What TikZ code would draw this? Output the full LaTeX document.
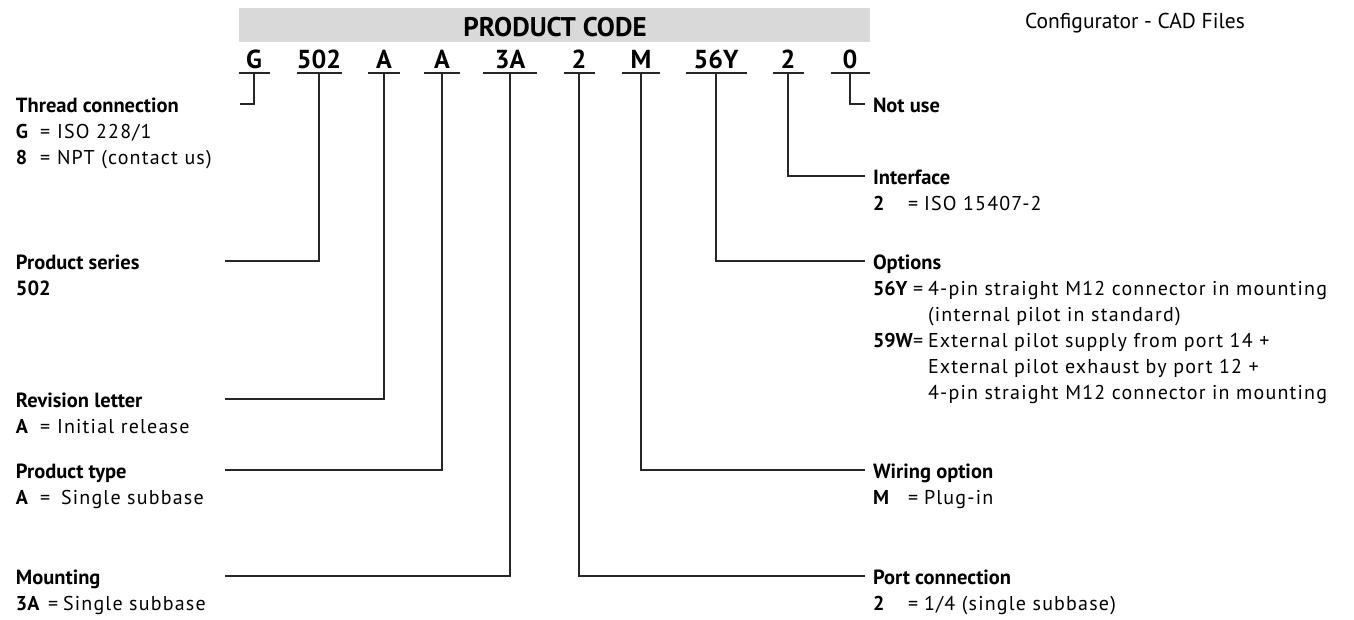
\documentclass[tikz,border=0pt]{standalone}
\usepackage{fontspec}
\setmainfont{PT Sans}
\newfontfamily\bodyfnt[LetterSpace=6]{PT Sans}
\begin{document}
\begin{tikzpicture}[x=1pt,y=-1pt,
  every node/.style={inner sep=0pt,outer sep=0pt},
  body/.style={font=\fontsize{20}{24}\bodyfnt,anchor=base west},
  eqn/.style={font=\fontsize{20}{24}\selectfont,anchor=base west},
  keyn/.style={font=\fontsize{20}{24}\selectfont\bfseries,anchor=base west},
  ttl/.style={font=\fontsize{20.5}{24}\selectfont\bfseries,anchor=base west},
  code/.style={font=\fontsize{26}{30}\selectfont\bfseries,anchor=base,minimum width=#1},
  conn/.style={line width=1.3pt,color=black!85},
  uline/.style={line width=2pt,color=black!85}]
\useasboundingbox (0,0) rectangle (1354,619);
% header
\fill[black!15] (239,8) rectangle (870,42);
\node[font=\fontsize{27}{30}\selectfont\bfseries,anchor=base] (hdr) at (555,36) {PRODUCT CODE};
\node[font=\fontsize{21.5}{24}\selectfont,anchor=base west] (cfg) at (1025,28) {Configurator - CAD Files};
% code letters
\node[code=31pt] (c1) at (254,68) {G};
\node[code=45pt] (c2) at (319,68) {502};
\node[code=32pt] (c3) at (384,68) {A};
\node[code=36pt] (c4) at (442,68) {A};
\node[code=54pt] (c5) at (510,68) {3A};
\node[code=31pt] (c6) at (579,68) {2};
\node[code=38pt] (c7) at (641,68) {M};
\node[code=61pt] (c8) at (716,68) {56Y};
\node[code=31pt] (c9) at (788,68) {2};
\node[code=39pt] (c10) at (850,68) {0};
\foreach \i in {1,...,10}{
  \draw[uline] ([yshift=-5pt]c\i.base west) -- ([yshift=-5pt]c\i.base east);
}
% line end coordinates
\coordinate (e1) at (240,104);
\coordinate (e2) at (225,261);
\coordinate (e3) at (225,399);
\coordinate (e4) at (225,470);
\coordinate (e5) at (225,576);
\coordinate (e6) at (865,576);
\coordinate (e7) at (865,470);
\coordinate (e8) at (865,261);
\coordinate (e9) at (865,176);
\coordinate (e10) at (865,104);
\foreach \i in {1,...,10}{
  \draw[conn] ([yshift=-5pt]c\i.base) |- (e\i);
}
% left labels
\node[ttl] (t1) at (16,112) {Thread connection};
\node[keyn] (k1a) at (16,138) {G};
\node[eqn] (q1a) at (40,138) {=};
\node[body] (v1a) at (57,138) {ISO 228/1};
\node[keyn] (k1b) at (16,164) {8};
\node[eqn] (q1b) at (40,164) {=};
\node[body] (v1b) at (57,164) {NPT (contact us)};
\node[ttl] (t2) at (16,269) {Product series};
\node[ttl] (t2a) at (16,295) {502};
\node[ttl] (t3) at (16,407) {Revision letter};
\node[keyn] (k3a) at (16,433) {A};
\node[eqn] (q3a) at (40,433) {=};
\node[body] (v3a) at (57,433) {Initial release};
\node[ttl] (t4) at (16,478) {Product type};
\node[keyn] (k4a) at (16,504) {A};
\node[eqn] (q4a) at (40,504) {=};
\node[body] (v4a) at (61,504) {Single subbase};
\node[ttl] (t5) at (16,584) {Mounting};
\node[keyn] (k5a) at (16,610) {3A};
\node[eqn] (q5a) at (48,610) {=};
\node[body] (v5a) at (63,610) {Single subbase};
% right labels
\node[ttl] (r6) at (873,584) {Port connection};
\node[keyn] (k6a) at (873,610) {2};
\node[eqn] (q6a) at (908,610) {=};
\node[body] (v6a) at (924,610) {1/4 (single subbase)};
\node[ttl] (r7) at (873,478) {Wiring option};
\node[keyn] (k7a) at (873,504) {M};
\node[eqn] (q7a) at (908,504) {=};
\node[body] (v7a) at (924,504) {Plug-in};
\node[ttl] (r8) at (873,269) {Options};
\node[keyn] (k8a) at (873,295) {56Y};
\node[eqn] (q8a) at (913,295) {=};
\node[body] (v8a) at (928,295) {4-pin straight M12 connector in mounting};
\node[body] (v8b) at (928,321) {(internal pilot in standard)};
\node[keyn] (k8c) at (873,347) {59W};
\node[eqn] (q8c) at (913,347) {=};
\node[body] (v8c) at (928,347) {External pilot supply from port 14 +};
\node[body] (v8d) at (928,373) {External pilot exhaust by port 12 +};
\node[body] (v8e) at (928,399) {4-pin straight M12 connector in mounting};
\node[ttl] (r9) at (873,184) {Interface};
\node[keyn] (k9a) at (873,210) {2};
\node[eqn] (q9a) at (908,210) {=};
\node[body] (v9a) at (924,210) {ISO 15407-2};
\node[ttl] (r10) at (873,112) {Not use};
\end{tikzpicture}
\end{document}
